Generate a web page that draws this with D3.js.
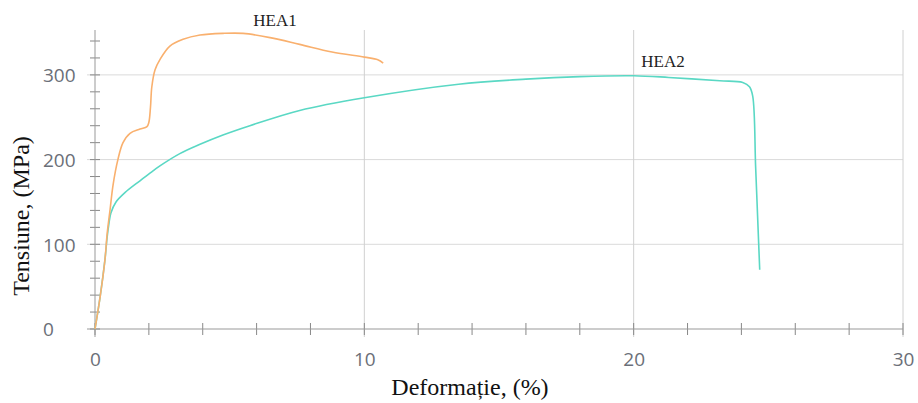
<!DOCTYPE html>
<html>
<head>
<meta charset="UTF-8">
<title>Tensiune - Deformatie</title>
<style>
    body { margin: 0; background: #fff; }
    .tick text { font-family: "Open Sans", sans-serif; font-size: 19px; fill: #6b6f78; }
    .axis-title { font-family: "Liberation Serif", "DejaVu Serif", serif; font-size: 24px; fill: #111; }
    .series-label { font-family: "Liberation Serif", "DejaVu Serif", serif; font-size: 17px; fill: #222; }
</style>
</head>
<body>
<svg id="chart" width="918" height="403"></svg>
<script src="https://cdnjs.cloudflare.com/ajax/libs/d3/7.8.5/d3.min.js"></script>
<script>
// strain (%) and stress (MPa)
let hea1Strain = [0, 0.19, 0.37, 0.45, 0.56, 0.67, 0.85, 1.04, 1.3, 1.67, 1.93, 2.0, 2.06, 2.11, 2.23, 2.41, 2.78, 3.27, 3.9, 4.75, 5.5, 6.5, 7.6, 8.8, 10.0, 10.5, 10.7];
let hea1Stress = [0, 38, 82, 112, 141, 170, 200, 220, 231, 236, 239, 244, 262, 286, 306, 318, 334, 342, 347, 349, 349, 344, 336, 327, 321, 318, 314];

let hea2Strain = [0, 0.19, 0.37, 0.45, 0.52, 0.59, 0.78, 1.11, 1.67, 2.04, 2.41, 3.15, 3.9, 4.75, 5.75, 7.6, 10.0, 13.5, 16.0, 18.0, 20.0, 21.3, 23.2, 24.05, 24.3, 24.42, 24.53, 24.64, 24.68];
let hea2Stress = [0, 38, 82, 108, 125, 137, 150, 161, 175, 184, 192.5, 207, 218, 229, 240, 258, 273, 289, 295, 298, 299, 297, 293, 291, 286, 275, 190, 102, 70];

let xTicks = [0, 10, 20, 30];
let yTicks = [0, 100, 200, 300];

let svg = d3.select("#chart");

let x = d3.scaleLinear().domain([0, 30]).range([95, 903]);
let y = d3.scaleLinear().domain([0, 353]).range([329, 30]);

// grid
svg.append("g")
    .selectAll("line")
    .data(yTicks.slice(1))
    .enter().append("line")
    .attr("x1", x(0) - 8).attr("x2", x(30))
    .attr("y1", d => y(d)).attr("y2", d => y(d))
    .attr("stroke", "#dadada").attr("stroke-width", 1);

svg.append("g")
    .selectAll("line")
    .data(xTicks.slice(1))
    .enter().append("line")
    .attr("x1", d => x(d)).attr("x2", d => x(d))
    .attr("y1", y(0) + 8).attr("y2", y(353))
    .attr("stroke", "#d0d0d0").attr("stroke-width", 1);

// minor ticks
let xMinor = d3.range(0, 31, 2);
let yMinor = d3.range(0, 341, 20);

svg.append("g")
    .selectAll("line")
    .data(xMinor)
    .enter().append("line")
    .attr("x1", d => x(d)).attr("x2", d => x(d))
    .attr("y1", y(0) - 6).attr("y2", y(0) + 6)
    .attr("stroke", "#888");

svg.append("g")
    .selectAll("line")
    .data(yMinor)
    .enter().append("line")
    .attr("x1", x(0) - 5).attr("x2", x(0) + 5)
    .attr("y1", d => y(d)).attr("y2", d => y(d))
    .attr("stroke", "#888");

// axes
let xAxis = svg.append("g")
    .attr("transform", "translate(0," + y(0) + ")")
    .call(d3.axisBottom(x).tickValues(xTicks).tickSize(0));
xAxis.select(".domain").attr("stroke", "#999").attr("d", "M" + (x(0) - 8) + ",0H" + x(30));
xAxis.selectAll(".tick text").attr("y", 37).attr("dy", 0);

let yAxis = svg.append("g")
    .attr("transform", "translate(" + x(0) + ",0)")
    .call(d3.axisLeft(y).tickValues(yTicks).tickSize(0));
yAxis.select(".domain").attr("stroke", "#999").attr("d", "M0," + y(353) + "V" + (y(0) + 8));
yAxis.selectAll(".tick text")
    .attr("text-anchor", "start")
    .attr("x", 43 - x(0))
    .attr("dy", "0.36em");

// curves
let line = d3.line()
    .x(d => x(d[0]))
    .y(d => y(d[1]))
    .curve(d3.curveCatmullRom.alpha(0.5));

svg.append("path")
    .datum(d3.zip(hea2Strain, hea2Stress))
    .attr("d", line)
    .attr("fill", "none")
    .attr("stroke", "#5ad8c4")
    .attr("stroke-width", 1.6);

svg.append("path")
    .datum(d3.zip(hea1Strain, hea1Stress))
    .attr("d", line)
    .attr("fill", "none")
    .attr("stroke", "#f9b06e")
    .attr("stroke-width", 1.6);

// labels
svg.append("text").attr("class", "series-label")
    .attr("x", 275).attr("y", 26).attr("text-anchor", "middle").text("HEA1");
svg.append("text").attr("class", "series-label")
    .attr("x", 663).attr("y", 67).attr("text-anchor", "middle").text("HEA2");

svg.append("text").attr("class", "axis-title")
    .attr("x", 470).attr("y", 395).attr("text-anchor", "middle")
    .text("Deformație, (%)");

svg.append("text").attr("class", "axis-title")
    .attr("transform", "translate(29,216) rotate(-90)")
    .attr("text-anchor", "middle")
    .text("Tensiune, (MPa)");
</script>
</body>
</html>
